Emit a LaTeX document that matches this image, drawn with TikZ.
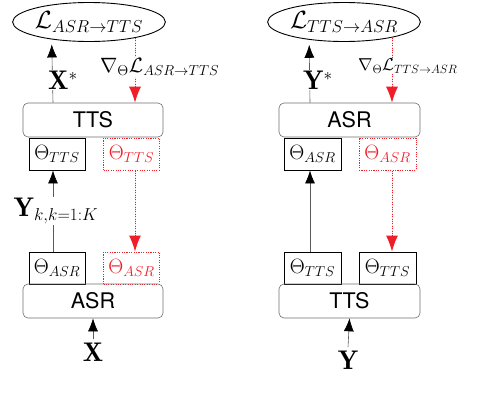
\documentclass[tikz,border=0pt]{standalone}
\usepackage{fontspec}
\setsansfont{TeX Gyre Heros}
\usetikzlibrary{arrows.meta,shapes.geometric,calc}
\definecolor{myred}{RGB}{240,30,40}
\definecolor{boxgray}{RGB}{110,110,110}
\definecolor{linegray}{RGB}{90,90,90}
\begin{document}
\begin{tikzpicture}[x=1pt,y=-1pt,
 rbox/.style={draw=boxgray,rounded corners=5pt,line width=0.6pt,minimum width=140pt,minimum height=34pt,inner sep=0pt,font=\fontsize{21.5}{24}\sffamily},
 pbox/.style={draw=black,line width=0.9pt,minimum width=56pt,minimum height=32pt,inner sep=0pt,font=\fontsize{20}{24}\selectfont},
 rdots/.style={dash pattern=on 1.1pt off 1.3pt,line width=1pt},
 rpbox/.style={pbox,draw=myred,rdots,text=myred},
 loss/.style={draw,ellipse,line width=0.9pt,minimum width=148pt,minimum height=39pt,inner sep=0pt,font=\fontsize{25}{28}\selectfont},
 barr/.style={-{Latex[length=13pt,width=10pt,black]},draw=linegray,line width=0.6pt},
 rarr/.style={-{Latex[length=16pt,width=12pt]},draw=myred,fill=myred,rdots},
 lab/.style={fill=white,inner sep=1pt},
 big/.style={font=\fontsize{27}{30}\selectfont},
 grad/.style={fill=white,inner sep=1pt,font=\fontsize{20}{24}\selectfont}
]
\useasboundingbox (0,0) rectangle (482,400);
% ---------- left ----------
\node[loss] (ellL) at (89,22) {$\mathcal{L}_{ASR\rightarrow TTS}$};
\node[rbox] (ttsL) at (93,120) {TTS};
\node[pbox] (thTTSL) at (57,154) {$\Theta_{TTS}$};
\node[rpbox] (thTTSrL) at (131.5,154) {$\Theta_{TTS}$};
\node[pbox] (thASRL) at (57,268) {$\Theta_{ASR}$};
\node[rpbox] (thASRrL) at (131.5,268) {$\Theta_{ASR}$};
\node[rbox] (asrL) at (93,301) {ASR};
\node[big] (XL) at (93,352) {$\mathbf{X}$};
\coordinate (bcolL) at (53,0);
\coordinate (rcolL) at (135,0);
\draw[barr,shorten >=5pt] (ttsL.north -| bcolL) -- (ellL.205);
\node[lab,big] (XsL) at (63,80) {$\mathbf{X}^*$};
\draw[rarr] (ellL.south -| rcolL) ++(0,-4) coordinate (gsL) -- (ttsL.north -| rcolL);
\draw[rarr] (thTTSrL.south -| rcolL) -- (thASRrL.north -| rcolL);
\draw[barr] (thASRL.north -| bcolL) -- node[lab,big,xshift=3pt] (YkL) {$\mathbf{Y}_{k,k=1:K}$} (thTTSL.south -| bcolL);
\node[grad,anchor=west] (gradL) at (99,67) {$\nabla_{\Theta}\mathcal{L}_{ASR\rightarrow TTS}$};
\draw[barr] (XL.north) -- (asrL.south);
% ---------- right ----------
\node[loss,minimum width=152pt] (ellR) at (344,22) {$\mathcal{L}_{TTS\rightarrow ASR}$};
\node[rbox,minimum width=141pt] (asrR) at (349.5,120) {ASR};
\node[pbox,minimum width=57pt] (thASRR) at (312.5,154) {$\Theta_{ASR}$};
\node[rpbox,minimum width=57pt] (thASRrR) at (387.5,154) {$\Theta_{ASR}$};
\node[pbox,minimum width=57pt] (thTTSR) at (312.5,268) {$\Theta_{TTS}$};
\node[pbox,minimum width=57pt] (thTTSR2) at (387.5,268) {$\Theta_{TTS}$};
\node[rbox,minimum width=141pt] (ttsR) at (349.5,301) {TTS};
\node[big] (YR) at (348,360) {$\mathbf{Y}$};
\coordinate (bcolR) at (310,0);
\coordinate (rcolR) at (392,0);
\draw[barr,shorten >=5pt] (asrR.north -| bcolR) -- (ellR.207);
\node[lab,big] (YsR) at (318,80) {$\mathbf{Y}^*$};
\draw[rarr] (ellR.south -| rcolR) ++(0,-4) coordinate (gsR) -- (asrR.north -| rcolR);
\draw[rarr] (thASRrR.south -| rcolR) -- (thTTSR2.north -| rcolR);
\draw[barr] (thTTSR.north -| bcolR) -- (thASRR.south -| bcolR);
\node[grad,anchor=west,font=\fontsize{17}{20}\selectfont] (gradR) at (357,66) {$\nabla_{\Theta}\mathcal{L}_{TTS\rightarrow ASR}$};
\draw[barr] (YR.north) -- (ttsR.south);
\end{tikzpicture}
\end{document}
